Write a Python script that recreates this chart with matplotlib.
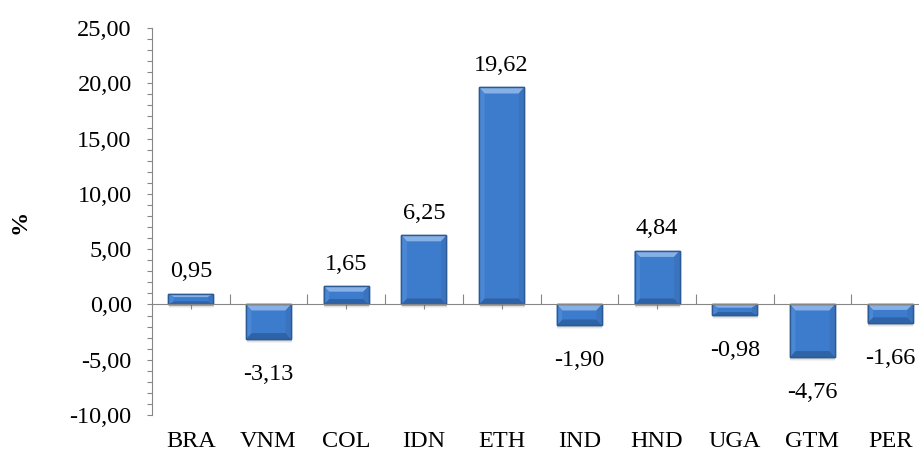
import matplotlib
matplotlib.use("Agg")
import matplotlib.pyplot as plt
from matplotlib.patches import Polygon, Rectangle
from matplotlib.ticker import FuncFormatter, MultipleLocator, FixedLocator
from matplotlib import transforms

# Data
categories = ["BRA", "VNM", "COL", "IDN", "ETH", "IND", "HND", "UGA", "GTM", "PER"]
values = [0.95, -3.13, 1.65, 6.25, 19.62, -1.90, 4.84, -0.98, -4.76, -1.66]
y_ticks = [-10, -5, 0, 5, 10, 15, 20, 25]

plt.rcParams["font.family"] = ["Liberation Serif", "DejaVu Serif"]
FS = 17.5

fig = plt.figure(figsize=(9.2, 4.66), dpi=100)
ax = fig.add_axes([0.1652, 0.1094, 0.8446, 0.8305])
ax.set_xlim(-0.5, len(categories) - 0.5)
ax.set_ylim(y_ticks[0], y_ticks[-1])

axis_gray = "#868686"
face = "#3d7ccc"
edge = "#2c5a94"
light = "#86b0e6"
side_l = "#4a88d6"
side_r = "#3a74bf"
dark = "#2f63a8"

width = 0.58
px_per_unit_y = ax.get_window_extent().height / (y_ticks[-1] - y_ticks[0])

for i, v in enumerate(values):
    x0, x1 = i - width / 2, i + width / 2
    y0, y1 = (0, v) if v >= 0 else (v, 0)
    h = y1 - y0
    # soft shadow beneath each bar
    for k, a in ((4, 0.06), (3, 0.08), (2, 0.10)):
        sh = Rectangle((x0, y0), width, h, facecolor="#303030",
                       edgecolor="none", alpha=a, zorder=1,
                       transform=transforms.offset_copy(ax.transData, fig=fig, x=0.5, y=-k, units="dots"))
        ax.add_patch(sh)
    ax.bar(i, v, width=width, color=face, edgecolor=edge, linewidth=1.0, zorder=2)
    # bevel facets
    dy = min(6.0 / px_per_unit_y, 0.3 * h)
    dx = 0.07
    top = Polygon([(x0, y1), (x1, y1), (x1 - dx, y1 - dy), (x0 + dx, y1 - dy)],
                  closed=True, facecolor=light, edgecolor="none", zorder=3)
    bottom = Polygon([(x0, y0), (x1, y0), (x1 - dx, y0 + dy), (x0 + dx, y0 + dy)],
                     closed=True, facecolor=dark, edgecolor="none", zorder=3)
    left = Polygon([(x0, y0), (x0, y1), (x0 + dx, y1 - dy), (x0 + dx, y0 + dy)],
                   closed=True, facecolor=side_l, edgecolor="none", zorder=3)
    right = Polygon([(x1, y0), (x1, y1), (x1 - dx, y1 - dy), (x1 - dx, y0 + dy)],
                    closed=True, facecolor=side_r, edgecolor="none", zorder=3)
    for p in (top, bottom, left, right):
        ax.add_patch(p)
    ax.add_patch(Rectangle((x0, y0), width, h, facecolor="none", edgecolor=edge,
                           linewidth=1.0, zorder=4))

    label = f"{v:.2f}".replace(".", ",")
    if v >= 0:
        ax.annotate(label, (i, v), xytext=(0, 12), textcoords="offset points",
                    ha="center", va="baseline", fontsize=FS, color="black", zorder=6)
    else:
        ax.annotate(label, (i, v), xytext=(0, -18), textcoords="offset points",
                    ha="center", va="top", fontsize=FS, color="black", zorder=6)

# spines
for s in ("top", "right"):
    ax.spines[s].set_visible(False)
ax.spines["left"].set_color(axis_gray)
ax.spines["bottom"].set_color(axis_gray)
ax.spines["bottom"].set_position(("data", 0))
ax.spines["bottom"].set_zorder(5)

# y axis
ax.yaxis.set_major_locator(FixedLocator(y_ticks))
ax.yaxis.set_minor_locator(MultipleLocator(1))
ax.yaxis.set_major_formatter(FuncFormatter(lambda v, p: f"{v:.2f}".replace(".", ",")))
ax.tick_params(axis="y", which="both", direction="out", length=3.6, width=0.8,
               color=axis_gray, labelsize=FS, pad=11)

# x axis: boundary ticks up, centre ticks down, no labels on the zero line
ax.xaxis.set_major_locator(FixedLocator([i + 0.5 for i in range(len(categories) - 1)]))
ax.xaxis.set_minor_locator(FixedLocator(range(len(categories))))
ax.tick_params(axis="x", which="major", direction="in", length=7, width=0.8,
               color=axis_gray, labelbottom=False)
ax.tick_params(axis="x", which="minor", direction="out", length=3.6, width=0.8,
               color=axis_gray, labelbottom=False)

# category names along the bottom of the plot
trans = transforms.blended_transform_factory(ax.transData, ax.transAxes)
for i, c in enumerate(categories):
    ax.annotate(c, (i, 0), xycoords=trans, xytext=(0, -19), textcoords="offset points",
                ha="center", va="center", fontsize=FS, color="black", annotation_clip=False)

fig.text(20 / 920, 1 - 222 / 466, "%", rotation=90, ha="center", va="center",
         fontsize=FS, fontweight="bold")

fig.savefig("out.png", dpi=100)
